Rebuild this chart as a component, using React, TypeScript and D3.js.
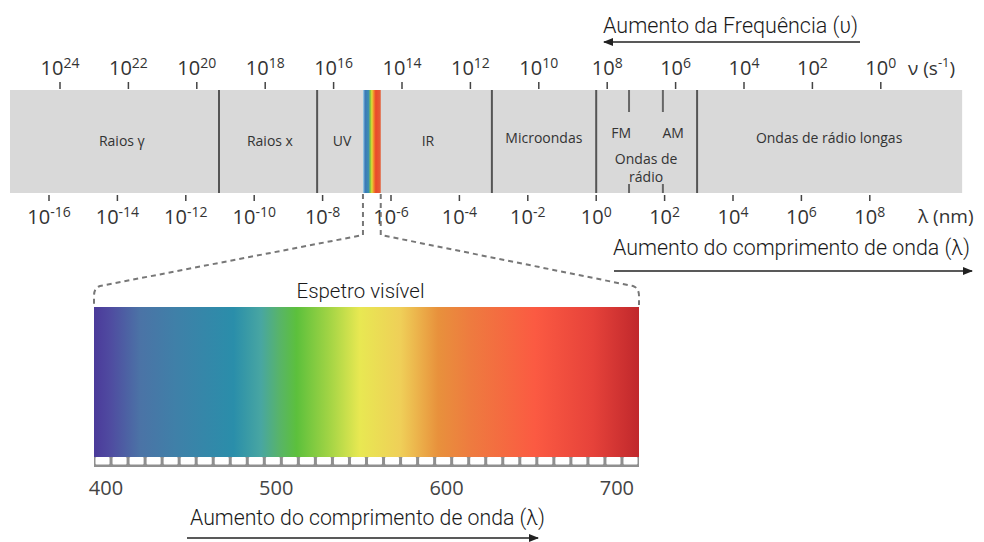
import React from "react";
import * as d3 from "d3";

// exponents on the two log axes
const freqExponents = [24, 22, 20, 18, 16, 14, 12, 10, 8, 6, 4, 2, 0];
const waveExponents = [-16, -14, -12, -10, -8, -6, -4, -2, 0, 2, 4, 6, 8];

// band extent and region dividers (log10 of wavelength in nm)
const bandExtent = [-17.14, 10.7];
const dividers = [-11.03, -8.16, -3.05, 0, 2.95];
const radioMarks = [0.96, 1.95]; // FM / AM short marks

const regionLabels = [
  { text: "Raios γ", at: -13.87, dy: 0 },
  { text: "Raios x", at: -9.54, dy: 0 },
  { text: "UV", at: -7.43, dy: 0 },
  { text: "IR", at: -4.92, dy: 0 },
  { text: "Microondas", at: -1.53, dy: -3 },
  { text: "FM", at: 0.73, dy: -8 },
  { text: "AM", at: 2.25, dy: -8 },
  { text: "Ondas de", at: 1.46, dy: 18 },
  { text: "rádio", at: 1.46, dy: 36 },
  { text: "Ondas de rádio longas", at: 6.81, dy: -3 },
];

// visible slice inside the band
const visibleRange = [-6.82, -6.3];
const visibleStripe = [
  { o: 0, c: "#a6d8ec" },
  { o: 0.12, c: "#3b78b8" },
  { o: 0.32, c: "#3d8fb0" },
  { o: 0.42, c: "#8cc63e" },
  { o: 0.5, c: "#e4dc36" },
  { o: 0.6, c: "#f0902c" },
  { o: 0.72, c: "#ea4a2a" },
  { o: 1, c: "#e4603a" },
];

// visible spectrum (nm)
const spectrumDomain = [393, 713];
const spectrumTicks = [400, 500, 600, 700];
const spectrumStops = [
  { nm: 393, c: "#4b3a9a" },
  { nm: 402, c: "#4f4aa0" },
  { nm: 420, c: "#4b73a6" },
  { nm: 441, c: "#3f80a8" },
  { nm: 475, c: "#2a8eaa" },
  { nm: 491, c: "#48a6a2" },
  { nm: 502, c: "#58b468" },
  { nm: 512, c: "#5cc03c" },
  { nm: 532, c: "#a5d545" },
  { nm: 549, c: "#e8e852" },
  { nm: 573, c: "#efcf58" },
  { nm: 595, c: "#e8913c" },
  { nm: 614, c: "#ee7b3f" },
  { nm: 652, c: "#fb5a42" },
  { nm: 686, c: "#e6423a" },
  { nm: 713, c: "#c0282c" },
];

const W = 984;
const H = 542;
const sans = "'Open Sans', 'Noto Sans', sans-serif";
const narrow = "Roboto, 'Liberation Sans', sans-serif";

export default function App() {
  const xWave = d3.scaleLinear().domain([-16, 8]).range([49, 869.8]);
  const xFreq = d3.scaleLinear().domain([24, 0]).range([60, 880.8]);
  const xNm = d3.scaleLinear().domain(spectrumDomain).range([94, 639]);

  const bandTop = 90;
  const bandBottom = 193;
  const specTop = 307;
  const specBottom = 457;

  const cells = d3.range(spectrumDomain[0], spectrumDomain[1], 10);

  const specX0 = xNm(spectrumDomain[0]);
  const specX1 = xNm(spectrumDomain[1]);
  const vis0 = xWave(visibleRange[0]);
  const vis1 = xWave(visibleRange[1]);

  const leftPath = `M${vis0},${bandBottom + 1} L${vis0},235 L${specX0 + 6},286 Q${specX0},288 ${specX0},296 L${specX0},${specTop - 2}`;
  const rightPath = `M${vis1},${bandBottom + 1} L${vis1},235 L${specX1 - 6},286 Q${specX1},288 ${specX1},296 L${specX1},${specTop - 2}`;

  return (
    <svg
      width={W}
      height={H}
      style={{ position: "absolute", left: 0, top: 0, background: "#fff" }}
    >
      <defs>
        <marker id="head" viewBox="0 0 10 8" refX="9" refY="4" markerWidth="10" markerHeight="8" markerUnits="userSpaceOnUse" orient="auto">
          <path d="M0,0 L10,4 L0,8 z" fill="#222" />
        </marker>
        <linearGradient id="vis" x1="0" x2="1" y1="0" y2="0">
          {visibleStripe.map((s, i) => (
            <stop key={i} offset={s.o} stopColor={s.c} />
          ))}
        </linearGradient>
        <linearGradient id="spec" x1="0" x2="1" y1="0" y2="0">
          {spectrumStops.map((s, i) => (
            <stop key={i} offset={(xNm(s.nm) - specX0) / (specX1 - specX0)} stopColor={s.c} />
          ))}
        </linearGradient>
      </defs>

      {/* frequency arrow */}
      <text x={603} y={33} fontFamily={narrow} fontWeight={300} fontSize={22} fill="#1a1a1a" textLength={255} lengthAdjust="spacingAndGlyphs">
        Aumento da Frequência (υ)
      </text>
      <line x1={860} x2={604} y1={42} y2={42} stroke="#222" strokeWidth={1.6} markerEnd="url(#head)" />

      {/* frequency ticks */}
      {freqExponents.map((e) => (
        <g key={"f" + e}>
          <line x1={xFreq(e)} x2={xFreq(e)} y1={82} y2={89} stroke="#444" strokeWidth={1.5} />
          <text x={xFreq(e)} y={75} textAnchor="middle" fontFamily={sans} fontSize={20} fill="#333">
            <tspan>10</tspan>
            <tspan dy={-7} fontSize={14}>{e}</tspan>
          </text>
        </g>
      ))}
      <text x={908} y={75} fontFamily={sans} fontSize={19} fill="#333">
        <tspan>ν (s</tspan>
        <tspan dy={-8} fontSize={13}>-1</tspan>
        <tspan dy={8}>)</tspan>
      </text>

      {/* band */}
      <rect
        x={xWave(bandExtent[0])}
        y={bandTop}
        width={xWave(bandExtent[1]) - xWave(bandExtent[0])}
        height={bandBottom - bandTop}
        fill="#d9d9d9"
      />
      {dividers.map((d) => (
        <line key={"d" + d} x1={xWave(d)} x2={xWave(d)} y1={bandTop} y2={bandBottom} stroke="#555" strokeWidth={2} />
      ))}
      {radioMarks.map((d) => (
        <g key={"r" + d}>
          <line x1={xWave(d)} x2={xWave(d)} y1={bandTop} y2={112} stroke="#666" strokeWidth={2} />
          <line x1={xWave(d)} x2={xWave(d)} y1={184} y2={bandBottom} stroke="#666" strokeWidth={2} />
        </g>
      ))}
      <rect x={vis0} y={bandTop} width={vis1 - vis0} height={bandBottom - bandTop} fill="url(#vis)" />
      {regionLabels.map((l, i) => (
        <text key={i} x={xWave(l.at)} y={146 + l.dy} textAnchor="middle" fontFamily={sans} fontSize={14} fill="#333">
          {l.text}
        </text>
      ))}

      {/* wavelength ticks */}
      {waveExponents.map((e) => (
        <g key={"w" + e}>
          <line x1={xWave(e)} x2={xWave(e)} y1={195} y2={201} stroke="#444" strokeWidth={1.5} />
          <text x={xWave(e)} y={224} textAnchor="middle" fontFamily={sans} fontSize={20} fill="#333">
            <tspan>10</tspan>
            <tspan dy={-7} fontSize={14}>{e}</tspan>
          </text>
        </g>
      ))}
      <text x={918} y={223} fontFamily={sans} fontSize={19} fill="#333">
        λ (nm)
      </text>

      {/* wavelength arrow */}
      <text x={613} y={255} fontFamily={narrow} fontWeight={300} fontSize={22} fill="#1a1a1a" textLength={357} lengthAdjust="spacingAndGlyphs">
        Aumento do comprimento de onda (λ)
      </text>
      <line x1={614} x2={972} y1={271} y2={271} stroke="#222" strokeWidth={1.6} markerEnd="url(#head)" />

      {/* connector */}
      <path d={leftPath} fill="none" stroke="#777" strokeWidth={2} strokeDasharray="5 4" />
      <path d={rightPath} fill="none" stroke="#777" strokeWidth={2} strokeDasharray="5 4" />

      <text x={(specX0 + specX1) / 2 - 6} y={298} textAnchor="middle" fontFamily={narrow} fontWeight={300} fontSize={21} fill="#1a1a1a" textLength={128} lengthAdjust="spacingAndGlyphs">
        Espetro visível
      </text>

      {/* spectrum */}
      <rect x={specX0} y={specTop} width={specX1 - specX0} height={specBottom - specTop} fill="url(#spec)" />
      <rect x={specX0} y={specBottom} width={specX1 - specX0} height={10} fill="#8f8f8f" />
      {cells.map((c) => (
        <rect
          key={"c" + c}
          x={xNm(c) + 1.5}
          y={specBottom}
          width={xNm(c + 10) - xNm(c) - 3}
          height={7.5}
          rx={1}
          fill="#fff"
        />
      ))}
      {spectrumTicks.map((t) => (
        <text key={"s" + t} x={xNm(t)} y={495} textAnchor="middle" fontFamily={sans} fontSize={20} fill="#444">
          {t}
        </text>
      ))}

      <text x={190} y={525} fontFamily={narrow} fontWeight={300} fontSize={22} fill="#1a1a1a" textLength={355} lengthAdjust="spacingAndGlyphs">
        Aumento do comprimento de onda (λ)
      </text>
      <line x1={187} x2={538} y1={538} y2={538} stroke="#222" strokeWidth={1.6} markerEnd="url(#head)" />
    </svg>
  );
}
